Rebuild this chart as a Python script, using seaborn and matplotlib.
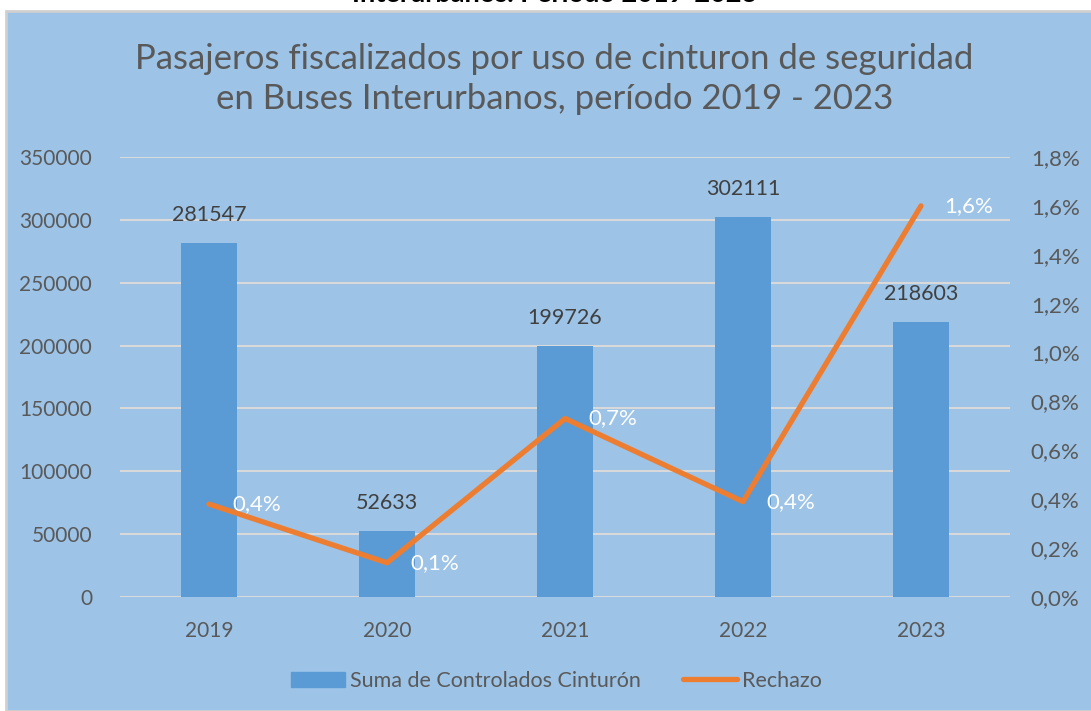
import numpy as np
import pandas as pd
import matplotlib
matplotlib.use("Agg")
import matplotlib.pyplot as plt
import seaborn as sns
from matplotlib.patches import Rectangle, Patch
from matplotlib.lines import Line2D
from matplotlib.ticker import FuncFormatter, MultipleLocator

years = ["2019", "2020", "2021", "2022", "2023"]
controlados = [281547, 52633, 199726, 302111, 218603]
rechazo = [0.0038, 0.0014, 0.0073, 0.0039, 0.0160]
rechazo_labels = ["0,4%", "0,1%", "0,7%", "0,4%", "1,6%"]
title = "Pasajeros fiscalizados por uso de cinturon de seguridad\nen Buses Interurbanos, período 2019 - 2023"
top_text = "Interurbanos. Período 2019-2023"
bar_label_name = "Suma de Controlados Cinturón"
line_label_name = "Rechazo"

BG = "#9DC3E6"
BAR = "#5B9BD5"
LINE = "#ED7D31"
TXT = "#595959"
GRID = "#D9D9D9"

sns.set_theme(style="white")
plt.rcParams["font.family"] = ["Lato", "DejaVu Sans"]

fig = plt.figure(figsize=(10.91, 7.11), dpi=100)
fig.patch.set_facecolor("white")
# panel background
fig.add_artist(Rectangle((6 / 1091, 0), 1.0, 1 - 11 / 711, transform=fig.transFigure,
                         facecolor=BG, edgecolor="#D0D0D0", linewidth=2, zorder=0))
fig.text(0.508, 1 - 2 / 711, top_text, ha="center", va="baseline", fontsize=19.5,
         fontweight="bold", color="black")

ax = fig.add_axes([120 / 1091, 1 - 597 / 711, 890 / 1091, 440 / 711])
ax.set_facecolor("none")
df = pd.DataFrame({"year": years, "controlados": controlados})
sns.barplot(data=df, x="year", y="controlados", color=BAR, saturation=1, width=0.32,
            ax=ax, zorder=3, edgecolor=BAR, linewidth=0)
ax.set_ylim(0, 350000)
ax.yaxis.set_major_locator(MultipleLocator(50000))
ax.set_xlim(-0.5, 4.5)
ax.grid(axis="y", color=GRID, linewidth=1.5, zorder=0)
ax.set_axisbelow(True)
for s in ax.spines.values():
    s.set_visible(False)
ax.set_xlabel("")
ax.set_ylabel("")
ax.tick_params(axis="both", length=0, labelsize=15, colors=TXT)
ax.tick_params(axis="x", pad=17)
ax.tick_params(axis="y", pad=20)
for c in ax.containers:
    ax.bar_label(c, labels=[str(v) for v in controlados], padding=13, fontsize=15.5, color="#404040")

ax2 = ax.twinx()
ax2.set_facecolor("none")
sns.lineplot(x=np.arange(len(years)), y=rechazo, ax=ax2, color=LINE, linewidth=3.8,
             solid_capstyle="round", zorder=4)
ax2.set_ylim(0, 0.018)
ax2.yaxis.set_major_locator(MultipleLocator(0.002))
ax2.yaxis.set_major_formatter(FuncFormatter(lambda v, p: f"{v*100:.1f}%".replace(".", ",")))
ax2.set_xlim(-0.5, 4.5)
for s in ax2.spines.values():
    s.set_visible(False)
ax2.tick_params(axis="y", length=0, labelsize=16, colors=TXT, pad=15)
ax2.grid(False)
for i, (v, lab) in enumerate(zip(rechazo, rechazo_labels)):
    ax2.annotate(lab, (i, v), xytext=(17, 0), textcoords="offset points",
                 ha="left", va="center", fontsize=16, color="white")

handles = [Patch(facecolor=BAR, edgecolor=BAR), Line2D([0], [0], color=LINE, linewidth=3.8,
                                                      solid_capstyle="round")]
fig.legend(handles, [bar_label_name, line_label_name], loc="center",
           bbox_to_anchor=(0.51, 1 - 681 / 711), ncol=2, frameon=False, fontsize=15.5,
           labelcolor=TXT, handlelength=2.5, handleheight=0.7, handletextpad=0.2,
           columnspacing=2.0)

fig.text(0.508, 1 - 79 / 711, title, ha="center", va="center", fontsize=25, color=TXT,
         linespacing=1.3)

fig.savefig("out.png", dpi=100)
